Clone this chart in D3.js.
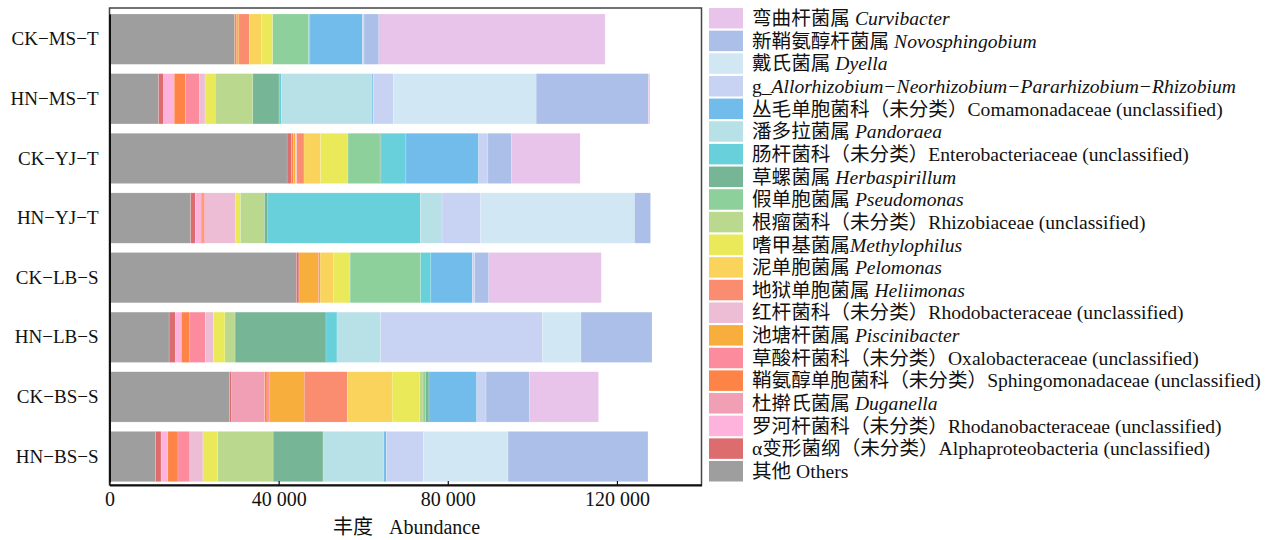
<!DOCTYPE html>
<html>
<head>
<meta charset="utf-8">
<script src="https://cdn.jsdelivr.net/npm/d3@7/dist/d3.min.js"></script>
<style>
  html, body { margin: 0; padding: 0; background: #fff; }
  svg { display: block; }
  text { font-family: "Liberation Serif", "Noto Sans CJK SC", serif; fill: #111; }
</style>
</head>
<body>
<svg id="chart" width="1273" height="540"></svg>
<script>
// Samples, top to bottom
const samples = ["CK−MS−T", "HN−MS−T", "CK−YJ−T", "HN−YJ−T", "CK−LB−S", "HN−LB−S", "CK−BS−S", "HN−BS−S"];

// Taxa in stacking order (left to right); the legend lists them in reverse
const taxaKeys = [
  "Others", "Alphaproteobacteria", "Rhodanobacteraceae", "Duganella", "Sphingomonadaceae",
  "Oxalobacteraceae", "Piscinibacter", "Rhodobacteraceae", "Heliimonas", "Pelomonas",
  "Methylophilus", "Rhizobiaceae", "Pseudomonas", "Herbaspirillum", "Enterobacteriaceae",
  "Pandoraea", "Comamonadaceae", "Allorhizobium", "Dyella", "Novosphingobium", "Curvibacter"
];
const taxaChinese = [
  "其他 ", "α变形菌纲（未分类）", "罗河杆菌科（未分类）", "杜擀氏菌属 ", "鞘氨醇单胞菌科（未分类）",
  "草酸杆菌科（未分类）", "池塘杆菌属 ", "红杆菌科（未分类）", "地狱单胞菌属 ", "泥单胞菌属 ",
  "嗜甲基菌属", "根瘤菌科（未分类）", "假单胞菌属 ", "草螺菌属 ", "肠杆菌科（未分类）",
  "潘多拉菌属 ", "丛毛单胞菌科（未分类）", "g_", "戴氏菌属 ", "新鞘氨醇杆菌属 ", "弯曲杆菌属 "
];
const taxaLatin = [
  "Others", "Alphaproteobacteria (unclassified)", "Rhodanobacteraceae (unclassified)", "Duganella",
  "Sphingomonadaceae (unclassified)", "Oxalobacteraceae (unclassified)", "Piscinibacter",
  "Rhodobacteraceae (unclassified)", "Heliimonas", "Pelomonas", "Methylophilus",
  "Rhizobiaceae (unclassified)", "Pseudomonas", "Herbaspirillum", "Enterobacteriaceae (unclassified)",
  "Pandoraea", "Comamonadaceae (unclassified)", "Allorhizobium−Neorhizobium−Pararhizobium−Rhizobium",
  "Dyella", "Novosphingobium", "Curvibacter"
];
const taxaItalic = [false, false, false, true, false, false, true, false, true, true,
  true, false, true, true, false, true, false, true, true, true, true];
const taxaColors = [
  "#9e9e9e", "#dc6c6e", "#fdb3dc", "#f19fb5", "#fd8446",
  "#fb8b9d", "#f8ae3d", "#edbdd6", "#fa8c6f", "#f9d35b",
  "#eae95a", "#bad98f", "#8ed09b", "#76b595", "#68d0da",
  "#b7e1e6", "#72bcec", "#c8d3f4", "#d1e8f4", "#abbfe8", "#e8c4ea"
];

// Abundance per sample, in taxa stacking order
const ckMsT = [29600, 0, 0, 0, 500, 0, 500, 0, 2500, 2900, 2600, 0, 8500, 0, 300, 0, 12400, 400, 0, 3500, 53500];
const hnMsT = [11600, 1200, 2500, 0, 2700, 3300, 0, 1300, 0, 0, 2400, 8900, 0, 6200, 600, 21400, 300, 4700, 33800, 26500, 400];
const ckYjT = [42000, 1000, 0, 0, 500, 0, 500, 300, 1700, 3900, 6500, 0, 7600, 200, 5900, 0, 17200, 2200, 0, 5500, 16300];
const hnYjT = [19200, 1100, 1400, 0, 400, 450, 0, 7300, 0, 0, 1100, 5700, 0, 800, 36100, 5100, 0, 9100, 36400, 3800, 0];
const ckLbS = [44200, 600, 0, 0, 0, 0, 4600, 0, 400, 3100, 4000, 0, 16700, 0, 2400, 0, 9800, 600, 0, 3300, 26600];
const hnLbS = [14100, 1500, 1400, 0, 2000, 3700, 0, 1900, 0, 0, 2700, 2400, 0, 21500, 2600, 10300, 0, 38300, 9100, 16800, 0];
const ckBsS = [28400, 500, 0, 7800, 550, 500, 8300, 0, 10200, 10600, 6500, 800, 600, 800, 0, 0, 11300, 2200, 0, 10200, 16400];
const hnBsS = [10900, 1300, 1600, 0, 2400, 2800, 0, 3100, 0, 0, 3500, 13100, 0, 11800, 0, 14400, 550, 8800, 20000, 33100, 0];
const sampleValues = [ckMsT, hnMsT, ckYjT, hnYjT, ckLbS, hnLbS, ckBsS, hnBsS];

const xTicks = [0, 40000, 80000, 120000];

// Build a row table for d3.stack
const table = samples.map((s, i) => {
  const row = { sample: s };
  taxaKeys.forEach((k, j) => { row[k] = sampleValues[i][j]; });
  return row;
});

const svg = d3.select("#chart");
const plot = { left: 109.5, right: 701.5, top: 8, bottom: 485 };

const x = d3.scaleLinear().domain([0, 140000]).range([plot.left, plot.right]);
const y = d3.scaleBand().domain(samples).range([14, 481.7]).paddingInner(0.156).paddingOuter(0);
const color = d3.scaleOrdinal().domain(taxaKeys).range(taxaColors);

const series = d3.stack().keys(taxaKeys)(table);

// Stacked bars
svg.append("g")
  .selectAll("g")
  .data(series)
  .join("g")
  .attr("fill", d => color(d.key))
  .selectAll("rect")
  .data(d => d)
  .join("rect")
  .attr("x", d => x(d[0]))
  .attr("y", d => y(d.data.sample))
  .attr("width", d => Math.max(0, x(d[1]) - x(d[0])))
  .attr("height", y.bandwidth())
  .attr("stroke", "#ffffff")
  .attr("stroke-opacity", 0.35)
  .attr("stroke-width", 0.5);

// Plot frame
svg.append("rect")
  .attr("x", plot.left).attr("y", plot.top)
  .attr("width", plot.right - plot.left).attr("height", plot.bottom - plot.top)
  .attr("fill", "none").attr("stroke", "#444").attr("stroke-width", 1.5);

// Bottom axis with inward ticks
const fmt = d3.formatLocale({ decimal: ".", thousands: " ", grouping: [3], currency: ["", ""] }).format(",");
const xAxis = svg.append("g")
  .attr("transform", `translate(0,${plot.bottom})`)
  .call(d3.axisBottom(x).tickValues(xTicks).tickFormat(fmt).tickSizeInner(-4).tickSizeOuter(0).tickPadding(7));
xAxis.select(".domain").attr("stroke", "#111").attr("stroke-width", 2);
xAxis.selectAll(".tick line").attr("stroke", "#111").attr("stroke-width", 1.2);
xAxis.selectAll(".tick text")
  .attr("font-size", 20)
  .attr("font-family", "Liberation Serif, serif")
  .attr("fill", "#111");

// Left axis: sample names, no tick marks
const yAxis = svg.append("g")
  .attr("transform", `translate(${plot.left},0)`)
  .call(d3.axisLeft(y).tickSize(0).tickPadding(11));
yAxis.select(".domain").attr("stroke", "#111").attr("stroke-width", 2);
yAxis.selectAll(".tick text")
  .attr("font-size", 19)
  .attr("font-family", "Liberation Serif, serif")
  .attr("fill", "#111");

// Axis title
const title = svg.append("text")
  .attr("x", 333).attr("y", 534)
  .attr("font-size", 20);
title.append("tspan").text("丰度");
title.append("tspan").attr("dx", 16).text("Abundance");

// Legend, listed from the last stacked taxon down to "Others"
const legendOrder = d3.range(taxaKeys.length).reverse();
const legend = svg.append("g");
const rowStep = 22.65;
legendOrder.forEach((j, r) => {
  const top = 8 + r * rowStep;
  legend.append("rect")
    .attr("x", 709).attr("y", top)
    .attr("width", 34).attr("height", 20.5)
    .attr("fill", taxaColors[j]);
  const t = legend.append("text")
    .attr("x", 752).attr("y", top + 10)
    .attr("dominant-baseline", "central")
    .attr("font-size", 19.6);
  t.append("tspan").text(taxaChinese[j]);
  t.append("tspan").attr("font-style", taxaItalic[j] ? "italic" : "normal").text(taxaLatin[j]);
});
</script>
</body>
</html>
